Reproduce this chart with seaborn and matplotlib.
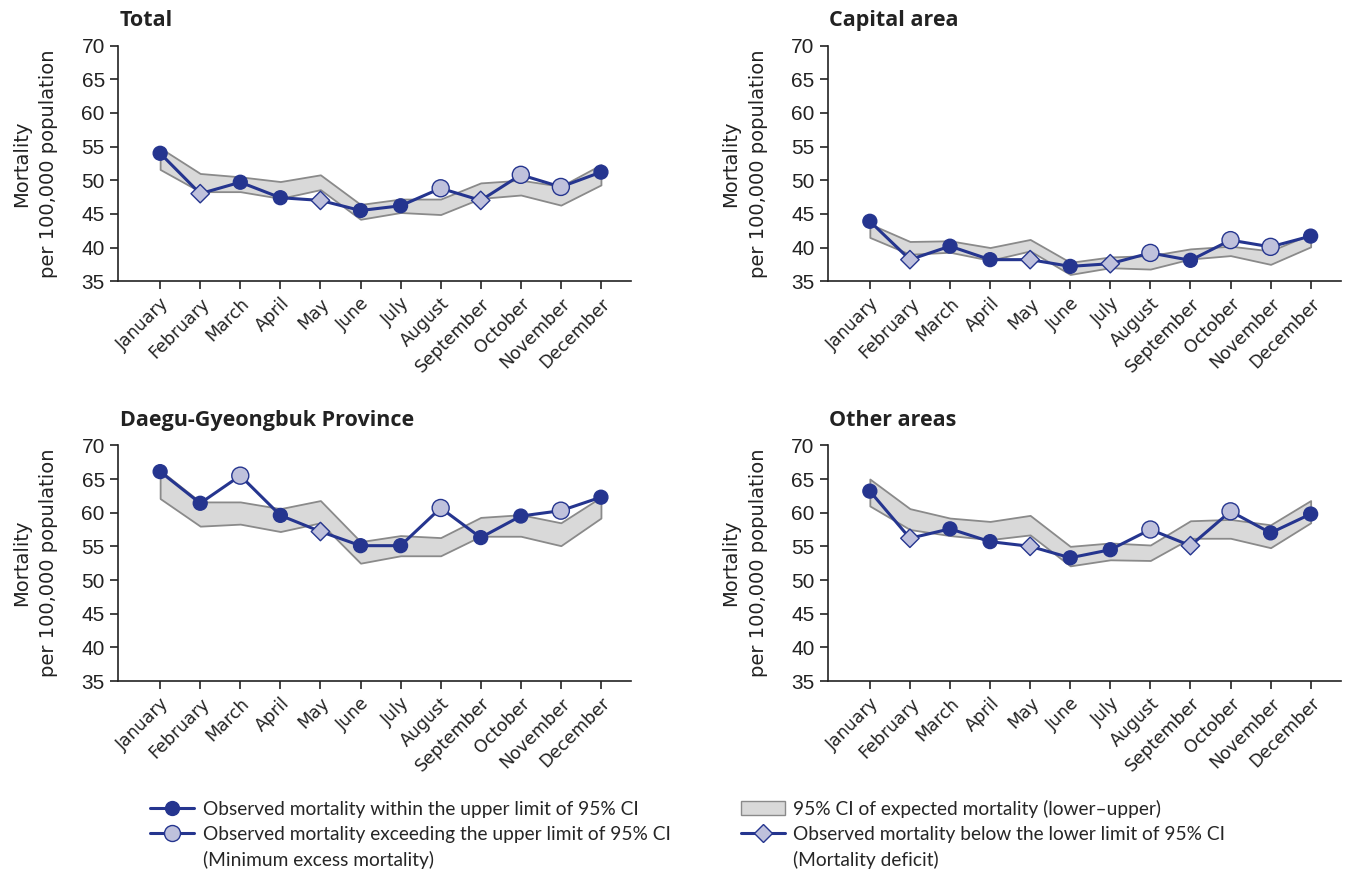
import numpy as np
import pandas as pd
import seaborn as sns
import matplotlib.pyplot as plt
from matplotlib.lines import Line2D
from matplotlib.patches import Patch

months = ["January", "February", "March", "April", "May", "June", "July",
          "August", "September", "October", "November", "December"]

# observed mortality, 95% CI of expected (lower / upper), marker status
# F = within CI upper limit, E = exceeding upper limit, D = below lower limit
total_obs = [54.0, 48.0, 49.7, 47.4, 47.0, 45.5, 46.2, 48.8, 47.0, 50.8, 49.0, 51.2]
total_lo = [51.6, 48.3, 48.3, 47.3, 48.6, 44.2, 45.2, 44.9, 47.3, 47.8, 46.3, 49.3]
total_hi = [54.8, 51.0, 50.5, 49.8, 50.8, 46.4, 47.2, 47.2, 49.6, 50.0, 49.1, 52.3]
total_status = ["F", "D", "F", "F", "D", "F", "F", "E", "D", "E", "E", "F"]

capital_obs = [43.9, 38.2, 40.2, 38.2, 38.2, 37.2, 37.6, 39.2, 38.1, 41.1, 40.1, 41.7]
capital_lo = [41.5, 39.0, 39.3, 38.1, 39.5, 36.0, 37.0, 36.8, 38.3, 38.8, 37.5, 40.1]
capital_hi = [43.5, 40.9, 41.0, 40.0, 41.2, 37.8, 38.6, 38.8, 39.8, 40.2, 39.5, 42.0]
capital_status = ["F", "D", "F", "F", "D", "F", "D", "E", "F", "E", "E", "F"]

daegu_obs = [66.1, 61.4, 65.5, 59.6, 57.2, 55.1, 55.1, 60.7, 56.3, 59.5, 60.3, 62.3]
daegu_lo = [62.1, 58.0, 58.3, 57.2, 58.5, 52.5, 53.6, 53.6, 56.5, 56.5, 55.1, 59.2]
daegu_hi = [66.3, 61.6, 61.6, 60.6, 61.8, 55.7, 56.6, 56.3, 59.3, 59.7, 58.5, 62.3]
daegu_status = ["F", "F", "E", "F", "D", "F", "F", "E", "F", "F", "E", "F"]

other_obs = [63.2, 56.2, 57.6, 55.7, 55.0, 53.3, 54.5, 57.5, 55.1, 60.2, 57.0, 59.8]
other_lo = [61.0, 57.5, 56.6, 56.0, 56.7, 52.1, 53.0, 52.9, 56.2, 56.2, 54.8, 58.5]
other_hi = [65.0, 60.6, 59.2, 58.7, 59.6, 55.0, 55.5, 55.2, 58.8, 59.0, 58.2, 61.8]
other_status = ["F", "D", "F", "F", "D", "F", "F", "E", "D", "E", "F", "F"]

titles = ["Total", "Capital area", "Daegu-Gyeongbuk Province", "Other areas"]

navy = "#25358f"
light = "#bfc1dc"
band_fill = "#d9d9d9"
band_edge = "#8a8a8a"

sns.set_style("ticks")
plt.rcParams["font.family"] = ["DejaVu Sans"]

fig = plt.figure(figsize=(13.57, 8.76), dpi=100)
rects = [[0.087, 0.679, 0.378, 0.269], [0.610, 0.679, 0.378, 0.269],
         [0.087, 0.2226, 0.378, 0.269], [0.610, 0.2226, 0.378, 0.269]]

panels = [(total_obs, total_lo, total_hi, total_status),
          (capital_obs, capital_lo, capital_hi, capital_status),
          (daegu_obs, daegu_lo, daegu_hi, daegu_status),
          (other_obs, other_lo, other_hi, other_status)]

for rect, title, (obs, lo, hi, status) in zip(rects, titles, panels):
    ax = fig.add_axes(rect)
    df = pd.DataFrame({"idx": np.arange(len(months)), "Month": months,
                       "Obs": obs, "Lo": lo, "Hi": hi, "Status": status})
    ax.fill_between(df["idx"], df["Lo"], df["Hi"], facecolor=band_fill,
                    edgecolor=band_edge, linewidth=1.3, zorder=1)
    sns.lineplot(data=df, x="idx", y="Obs", color=navy, linewidth=2.2, ax=ax, zorder=2)
    sns.scatterplot(data=df, x="idx", y="Obs", hue="Status", style="Status", size="Status",
                    palette={"F": navy, "E": light, "D": light},
                    markers={"F": "o", "E": "o", "D": "D"},
                    sizes={"F": 100, "E": 150, "D": 88},
                    edgecolor=navy, linewidth=1.0, legend=False, ax=ax, zorder=3)
    ax.set_xlim(-1.05, 11.75)
    ax.set_ylim(35, 70)
    ax.set_yticks(range(35, 71, 5))
    ax.set_xticks(df["idx"])
    ax.set_xticklabels(months, rotation=45, ha="right", rotation_mode="anchor",
                       fontsize=12.5, family="DejaVu Sans")
    for lab in ax.get_yticklabels():
        lab.set_fontfamily("Liberation Sans")
        lab.set_fontsize(15)
    ax.tick_params(length=6, width=1.2, color="#222222", labelcolor="#222222")
    ax.set_xlabel("")
    ax.set_ylabel("Mortality\nper 100,000 population", fontsize=14, labelpad=17,
                  color="#222222", family="DejaVu Sans", linespacing=1.55)
    sns.despine(ax=ax)
    for sp in ("left", "bottom"):
        ax.spines[sp].set_linewidth(1.2)
        ax.spines[sp].set_color("#222222")
    ax.text(0.003, 1.06, title, transform=ax.transAxes, fontsize=15.5, fontweight="bold",
            family="Open Sans", color="#222222", va="bottom", ha="left")

handles = [
    Line2D([], [], color=navy, lw=2.2, marker="o", markersize=10, mfc=navy, mec=navy),
    Line2D([], [], color=navy, lw=2.2, marker="o", markersize=11.5, mfc=light, mec=navy),
    Line2D([], [], linestyle="none"),
    Patch(facecolor=band_fill, edgecolor=band_edge, linewidth=1.0),
    Line2D([], [], color=navy, lw=2.2, marker="D", markersize=9.5, mfc=light, mec=navy),
    Line2D([], [], linestyle="none"),
]
labels = [
    "Observed mortality within the upper limit of 95% CI",
    "Observed mortality exceeding the upper limit of 95% CI",
    "(Minimum excess mortality)",
    "95% CI of expected mortality (lower\u2013upper)",
    "Observed mortality below the lower limit of 95% CI",
    "(Mortality deficit)",
]
fig.legend(handles, labels, ncol=2, loc="upper left", bbox_to_anchor=(0.098, 0.107),
           frameon=False, prop={"family": "Lato", "size": 13.8}, handlelength=2.3,
           handletextpad=0.45, columnspacing=3.65, labelspacing=0.42)

fig.savefig("out.png", dpi=100)
